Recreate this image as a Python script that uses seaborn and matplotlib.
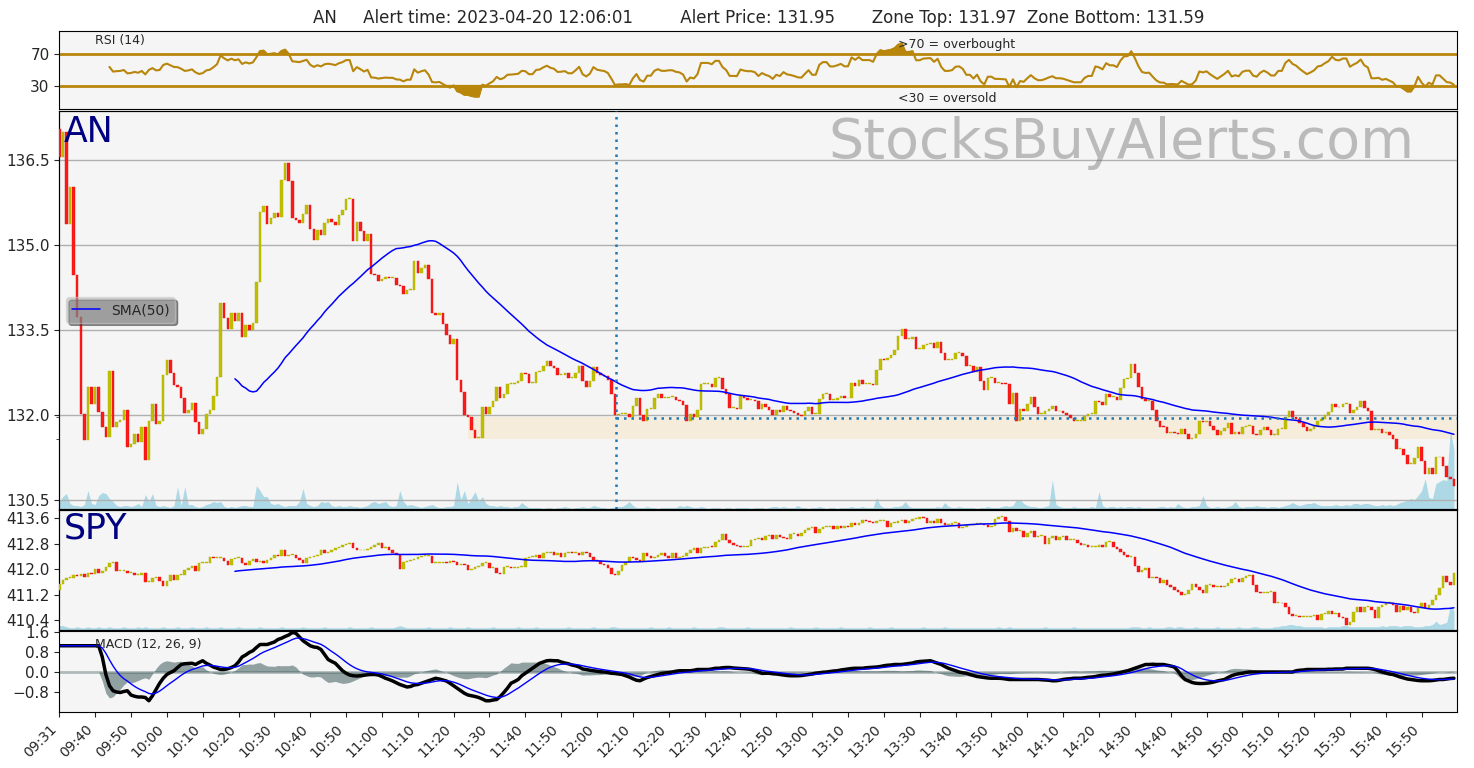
import numpy as np
import pandas as pd
import matplotlib
matplotlib.use("Agg")
import matplotlib.pyplot as plt
import seaborn as sns

# AN 1-minute closes (first bar opens at an_first_open)
an_first_open = 137.06
an_close = [
    136.56, 137.00, 135.38, 136.03, 134.47, 133.74, 132.03, 131.56, 132.50, 132.20,
    132.50, 132.06, 131.79, 131.62, 132.79, 131.79, 131.88, 131.92, 132.10, 131.44,
    131.50, 131.68, 131.53, 131.80, 131.22, 131.91, 132.20, 131.85, 131.91, 132.72,
    132.97, 132.75, 132.53, 132.51, 132.31, 132.04, 132.10, 132.22, 131.88, 131.68,
    131.76, 132.03, 132.10, 132.35, 132.68, 133.98, 133.72, 133.53, 133.80, 133.66,
    133.80, 133.39, 133.60, 133.50, 133.63, 134.35, 135.59, 135.69, 135.38, 135.49,
    135.58, 135.50, 136.16, 136.46, 136.13, 135.48, 135.44, 135.40, 135.55, 135.71,
    135.29, 135.10, 135.28, 135.18, 135.40, 135.46, 135.42, 135.36, 135.53, 135.63,
    135.82, 135.82, 135.08, 135.42, 135.26, 135.07, 135.20, 134.50, 134.47, 134.38,
    134.41, 134.44, 134.42, 134.42, 134.30, 134.28, 134.15, 134.22, 134.22, 134.72,
    134.52, 134.60, 134.65, 134.40, 133.81, 133.78, 133.80, 133.62, 133.42, 133.26,
    133.35, 132.63, 132.42, 132.00, 131.98, 131.75, 131.60, 131.60, 132.15, 132.03,
    132.15, 132.26, 132.50, 132.30, 132.37, 132.55, 132.56, 132.58, 132.60, 132.75,
    132.73, 132.57, 132.57, 132.76, 132.78, 132.88, 132.96, 132.88, 132.84, 132.71,
    132.72, 132.74, 132.66, 132.66, 132.75, 132.87, 132.60, 132.51, 132.60, 132.85,
    132.75, 132.72, 132.70, 132.63, 132.38, 132.00, 132.02, 132.02, 132.03, 131.97,
    132.16, 132.30, 132.00, 131.91, 132.12, 132.12, 132.31, 132.38, 132.31, 132.31,
    132.33, 132.33, 132.28, 132.26, 132.19, 131.91, 132.02, 131.98, 132.10, 132.55,
    132.55, 132.55, 132.51, 132.66, 132.66, 132.47, 132.37, 132.13, 132.13, 132.12,
    132.34, 132.30, 132.28, 132.28, 132.25, 132.12, 132.20, 132.14, 132.10, 132.00,
    132.10, 132.06, 132.16, 132.09, 132.07, 132.04, 132.00, 131.99, 132.07, 132.15,
    132.03, 132.03, 132.29, 132.38, 132.38, 132.28, 132.28, 132.31, 132.35, 132.30,
    132.30, 132.57, 132.52, 132.62, 132.56, 132.56, 132.56, 132.53, 132.80, 133.00,
    132.98, 133.02, 133.06, 133.15, 133.40, 133.53, 133.35, 133.35, 133.39, 133.18,
    133.18, 133.25, 133.26, 133.27, 133.19, 133.30, 133.10, 132.98, 132.98, 133.00,
    133.10, 133.11, 133.05, 132.88, 132.88, 132.76, 132.85, 132.60, 132.45, 132.66,
    132.66, 132.57, 132.57, 132.56, 132.55, 132.20, 132.40, 131.91, 132.12, 132.07,
    132.20, 132.32, 132.15, 132.03, 132.03, 132.07, 132.12, 132.16, 132.07, 132.07,
    132.05, 132.00, 131.95, 131.90, 131.90, 131.90, 131.99, 132.03, 132.03, 132.26,
    132.24, 132.19, 132.37, 132.32, 132.32, 132.28, 132.48, 132.65, 132.66, 132.91,
    132.75, 132.51, 132.29, 132.25, 132.26, 132.09, 131.91, 131.80, 131.79, 131.69,
    131.70, 131.69, 131.68, 131.76, 131.68, 131.59, 131.60, 131.68, 131.91, 131.88,
    131.91, 131.82, 131.74, 131.66, 131.72, 131.78, 131.86, 131.68, 131.71, 131.68,
    131.79, 131.82, 131.82, 131.68, 131.65, 131.74, 131.79, 131.74, 131.66, 131.66,
    131.76, 131.76, 131.97, 132.07, 131.98, 131.94, 131.86, 131.79, 131.72, 131.76,
    131.81, 131.91, 131.93, 132.00, 132.06, 132.21, 132.15, 132.14, 132.20, 132.20,
    132.04, 132.10, 132.15, 132.25, 132.13, 132.08, 131.75, 131.75, 131.76, 131.69,
    131.71, 131.65, 131.59, 131.41, 131.41, 131.30, 131.15, 131.15, 131.24, 131.45,
    131.20, 130.97, 131.08, 130.97, 131.26, 131.26, 131.10, 130.91, 130.88, 130.75,
]

spy_first_open = 411.36
spy_close = [
    411.55, 411.67, 411.72, 411.72, 411.82, 411.80, 411.85, 411.77, 411.87, 411.85,
    412.00, 411.87, 411.95, 412.06, 412.19, 412.24, 411.96, 411.96, 411.96, 411.90,
    411.90, 411.82, 411.82, 411.87, 411.61, 411.61, 411.72, 411.75, 411.64, 411.48,
    411.64, 411.82, 411.66, 411.82, 411.82, 411.98, 412.04, 412.10, 411.96, 412.19,
    412.21, 412.21, 412.38, 412.35, 412.35, 412.35, 412.27, 412.14, 412.31, 412.35,
    412.35, 412.21, 412.14, 412.27, 412.31, 412.24, 412.27, 412.21, 412.29, 412.34,
    412.45, 412.42, 412.62, 412.42, 412.45, 412.45, 412.35, 412.30, 412.19, 412.35,
    412.40, 412.42, 412.45, 412.60, 412.52, 412.55, 412.60, 412.66, 412.71, 412.76,
    412.78, 412.82, 412.66, 412.59, 412.59, 412.59, 412.63, 412.71, 412.76, 412.82,
    412.66, 412.71, 412.60, 412.50, 412.45, 412.00, 412.24, 412.27, 412.29, 412.33,
    412.40, 412.42, 412.42, 412.42, 412.19, 412.21, 412.21, 412.24, 412.19, 412.27,
    412.24, 412.14, 412.17, 412.14, 411.98, 412.02, 412.06, 412.09, 412.19, 412.19,
    412.03, 412.03, 411.87, 411.85, 412.08, 412.08, 412.03, 412.05, 412.06, 412.08,
    412.35, 412.40, 412.40, 412.45, 412.35, 412.50, 412.50, 412.55, 412.45, 412.50,
    412.40, 412.52, 412.55, 412.50, 412.50, 412.45, 412.55, 412.50, 412.40, 412.29,
    412.27, 412.17, 412.14, 412.03, 411.85, 411.82, 411.96, 412.14, 412.24, 412.40,
    412.35, 412.29, 412.27, 412.50, 412.42, 412.35, 412.40, 412.45, 412.50, 412.42,
    412.35, 412.50, 412.35, 412.40, 412.42, 412.50, 412.60, 412.66, 412.52, 412.66,
    412.66, 412.71, 412.69, 412.87, 412.92, 413.11, 412.92, 412.84, 412.76, 412.73,
    412.69, 412.71, 412.73, 412.92, 412.94, 412.97, 412.92, 413.03, 413.08, 412.94,
    413.08, 413.00, 412.97, 412.94, 413.10, 413.10, 413.05, 413.15, 413.22, 413.28,
    413.34, 413.13, 413.25, 413.32, 413.34, 413.36, 413.26, 413.36, 413.28, 413.36,
    413.34, 413.46, 413.39, 413.46, 413.55, 413.50, 413.47, 413.44, 413.50, 413.50,
    413.50, 413.32, 413.44, 413.44, 413.50, 413.55, 413.46, 413.50, 413.57, 413.57,
    413.65, 413.60, 413.46, 413.50, 413.46, 413.57, 413.46, 413.39, 413.39, 413.44,
    413.46, 413.29, 413.34, 413.39, 413.39, 413.42, 413.42, 413.42, 413.39, 413.34,
    413.36, 413.57, 413.65, 413.65, 413.50, 413.18, 413.29, 413.21, 413.21, 413.00,
    413.15, 413.21, 413.00, 413.05, 413.05, 412.80, 412.97, 413.05, 412.92, 413.00,
    413.03, 412.92, 412.92, 412.92, 412.82, 412.76, 412.76, 412.69, 412.69, 412.71,
    412.76, 412.69, 412.87, 412.87, 412.69, 412.63, 412.55, 412.45, 412.40, 412.40,
    412.10, 411.93, 411.98, 412.03, 411.72, 411.77, 411.72, 411.58, 411.66, 411.51,
    411.45, 411.35, 411.30, 411.19, 411.23, 411.35, 411.54, 411.46, 411.35, 411.25,
    411.51, 411.51, 411.44, 411.48, 411.44, 411.48, 411.58, 411.69, 411.69, 411.61,
    411.72, 411.79, 411.82, 411.51, 411.30, 411.25, 411.27, 411.30, 411.30, 410.95,
    410.95, 410.93, 410.83, 410.60, 410.54, 410.54, 410.50, 410.51, 410.51, 410.55,
    410.57, 410.41, 410.60, 410.60, 410.70, 410.60, 410.62, 410.51, 410.47, 410.26,
    410.36, 410.67, 410.83, 410.67, 410.83, 410.83, 410.72, 410.46, 410.83, 410.88,
    410.95, 410.95, 410.88, 410.67, 410.85, 410.72, 410.83, 410.67, 410.62, 410.78,
    410.93, 410.78, 410.88, 411.04, 411.20, 411.40, 411.79, 411.61, 411.51, 411.87,
]

an_volume = [
    8, 13, 16, 6, 4, 4, 3, 5, 19, 6,
    5, 14, 17, 16, 11, 8, 4, 3, 4, 4,
    3, 4, 6, 3, 15, 8, 16, 4, 3, 4,
    3, 2, 4, 23, 4, 23, 5, 5, 3, 2,
    3, 5, 6, 8, 7, 8, 3, 2, 3, 2,
    3, 4, 4, 3, 3, 24, 19, 13, 13, 6,
    5, 6, 4, 3, 4, 4, 4, 8, 21, 6,
    4, 3, 4, 8, 7, 8, 4, 3, 4, 3,
    3, 4, 3, 3, 2, 3, 4, 7, 8, 6,
    7, 8, 4, 3, 4, 19, 8, 4, 5, 4,
    3, 2, 3, 4, 5, 3, 2, 2, 3, 3,
    4, 28, 10, 19, 6, 12, 18, 8, 13, 6,
    4, 4, 3, 4, 3, 3, 2, 3, 3, 7,
    4, 2, 2, 2, 2, 1, 2, 2, 1, 2,
    2, 3, 2, 1, 2, 2, 3, 2, 2, 4,
    3, 2, 2, 1, 2, 2, 3, 3, 5, 8,
    4, 2, 2, 2, 3, 2, 2, 1, 2, 2,
    2, 2, 2, 4, 3, 4, 3, 2, 2, 3,
    2, 1, 2, 2, 2, 1, 2, 2, 1, 2,
    2, 2, 2, 1, 2, 2, 2, 1, 2, 3,
    3, 2, 3, 2, 2, 2, 4, 2, 2, 1,
    2, 2, 3, 2, 1, 2, 2, 1, 2, 2,
    2, 3, 2, 2, 3, 2, 2, 2, 12, 4,
    2, 2, 2, 3, 3, 4, 8, 3, 2, 2,
    2, 2, 2, 2, 2, 3, 2, 7, 3, 2,
    2, 3, 2, 2, 2, 2, 1, 2, 2, 3,
    2, 2, 2, 3, 4, 3, 4, 10, 10, 6,
    4, 3, 3, 2, 2, 3, 4, 30, 5, 3,
    2, 2, 2, 3, 2, 2, 2, 2, 3, 2,
    18, 4, 2, 3, 3, 2, 3, 2, 3, 3,
    2, 3, 2, 2, 2, 2, 2, 3, 3, 2,
    3, 2, 6, 3, 2, 2, 3, 3, 4, 14,
    4, 2, 2, 3, 2, 2, 3, 4, 8, 3,
    2, 3, 3, 3, 4, 3, 3, 2, 3, 3,
    2, 3, 4, 5, 7, 5, 4, 5, 6, 6,
    7, 5, 4, 4, 4, 4, 5, 4, 4, 5,
    4, 6, 6, 5, 6, 6, 5, 4, 4, 5,
    4, 5, 4, 5, 7, 8, 9, 11, 10, 14,
    19, 31, 12, 11, 26, 28, 30, 29, 80, 60,
]

spy_volume = [
    4, 4, 3, 2, 2, 3, 2, 2, 3, 2,
    2, 3, 2, 2, 3, 2, 2, 2, 3, 2,
    2, 2, 3, 2, 3, 2, 2, 2, 2, 3,
    2, 2, 2, 3, 2, 2, 2, 3, 2, 2,
    2, 3, 2, 2, 2, 3, 2, 2, 2, 2,
    3, 2, 2, 2, 2, 2, 3, 2, 2, 2,
    2, 2, 3, 2, 2, 2, 2, 2, 3, 2,
    2, 2, 2, 2, 3, 2, 2, 2, 2, 2,
    2, 3, 2, 2, 2, 2, 2, 3, 2, 2,
    2, 2, 2, 2, 3, 4, 3, 2, 2, 2,
    2, 2, 2, 3, 2, 2, 2, 2, 2, 3,
    2, 2, 2, 2, 3, 2, 2, 2, 2, 2,
    2, 3, 2, 2, 2, 2, 2, 2, 3, 2,
    2, 2, 2, 3, 2, 2, 2, 2, 2, 2,
    2, 2, 3, 2, 2, 2, 2, 2, 2, 3,
    2, 2, 2, 2, 3, 3, 2, 2, 2, 2,
    2, 2, 2, 2, 2, 3, 2, 2, 2, 2,
    3, 2, 2, 2, 2, 2, 2, 3, 2, 2,
    2, 2, 2, 2, 3, 3, 2, 2, 2, 2,
    2, 2, 3, 2, 2, 2, 2, 2, 2, 2,
    2, 2, 2, 2, 3, 2, 2, 2, 2, 2,
    2, 3, 2, 2, 2, 2, 2, 2, 3, 2,
    2, 2, 2, 2, 2, 2, 3, 2, 2, 2,
    2, 2, 3, 2, 2, 2, 2, 2, 2, 2,
    2, 3, 2, 2, 2, 2, 2, 3, 2, 2,
    2, 2, 2, 2, 2, 2, 2, 2, 2, 2,
    2, 2, 3, 2, 2, 3, 2, 2, 2, 2,
    2, 2, 2, 2, 2, 3, 2, 2, 2, 2,
    2, 2, 2, 3, 2, 2, 2, 2, 2, 2,
    2, 2, 2, 2, 2, 2, 2, 2, 2, 3,
    3, 3, 2, 2, 3, 2, 2, 2, 2, 3,
    3, 2, 3, 3, 2, 2, 2, 3, 2, 2,
    2, 2, 2, 3, 2, 2, 2, 2, 2, 3,
    2, 2, 2, 3, 3, 2, 2, 2, 2, 3,
    3, 4, 4, 5, 5, 4, 4, 3, 3, 3,
    3, 3, 3, 2, 3, 3, 3, 3, 4, 4,
    3, 3, 3, 3, 3, 3, 3, 3, 3, 4,
    3, 4, 4, 4, 3, 4, 4, 4, 3, 3,
    3, 4, 4, 5, 8, 5, 6, 7, 22, 18,
]

# MACD (12, 26, 9) line; signal/histogram derived below
macd_line = [
    1.05, 1.05, 1.05, 1.05, 1.05, 1.05, 1.05, 1.05, 1.05, 1.05,
    1.05, 1.05, 0.60, -0.10, -0.55, -0.75, -0.80, -0.82, -0.78, -0.75,
    -0.92, -0.97, -1.00, -1.00, -1.02, -1.15, -0.95, -0.70, -0.45, -0.25,
    -0.10, -0.02, 0.05, 0.18, 0.30, 0.33, 0.34, 0.35, 0.30, 0.38,
    0.45, 0.35, 0.28, 0.20, 0.15, 0.10, 0.10, 0.13, 0.18, 0.25,
    0.40, 0.60, 0.68, 0.78, 0.85, 0.98, 1.10, 1.10, 1.10, 1.15,
    1.20, 1.30, 1.35, 1.42, 1.48, 1.58, 1.55, 1.40, 1.25, 1.15,
    1.05, 1.00, 0.98, 0.90, 0.70, 0.50, 0.42, 0.35, 0.20, 0.05,
    -0.05, -0.12, -0.15, -0.16, -0.15, -0.13, -0.11, -0.10, -0.10, -0.12,
    -0.18, -0.25, -0.30, -0.36, -0.43, -0.50, -0.55, -0.60, -0.58, -0.52,
    -0.50, -0.45, -0.40, -0.35, -0.30, -0.25, -0.28, -0.32, -0.36, -0.45,
    -0.55, -0.65, -0.75, -0.85, -0.92, -0.95, -0.98, -1.02, -1.08, -1.15,
    -1.15, -1.12, -1.10, -0.98, -0.82, -0.65, -0.45, -0.38, -0.30, -0.15,
    -0.05, 0.05, 0.15, 0.25, 0.35, 0.40, 0.45, 0.46, 0.45, 0.45,
    0.40, 0.36, 0.33, 0.28, 0.25, 0.20, 0.12, 0.10, 0.07, 0.05,
    0.03, 0.01, 0.00, -0.02, -0.05, -0.06, -0.08, -0.10, -0.15, -0.20,
    -0.27, -0.33, -0.35, -0.28, -0.22, -0.18, -0.14, -0.10, -0.06, -0.04,
    -0.02, 0.00, 0.03, 0.05, 0.05, 0.05, 0.05, 0.07, 0.10, 0.10,
    0.10, 0.10, 0.12, 0.15, 0.15, 0.17, 0.18, 0.18, 0.16, 0.15,
    0.14, 0.13, 0.12, 0.10, 0.05, 0.00, -0.05, -0.05, -0.05, -0.07,
    -0.08, -0.10, -0.12, -0.14, -0.15, -0.15, -0.15, -0.14, -0.12, -0.10,
    -0.08, -0.05, -0.03, -0.01, 0.00, 0.02, 0.04, 0.05, 0.08, 0.10,
    0.12, 0.14, 0.15, 0.15, 0.15, 0.17, 0.18, 0.19, 0.20, 0.22,
    0.25, 0.27, 0.28, 0.30, 0.30, 0.30, 0.32, 0.34, 0.36, 0.40,
    0.42, 0.43, 0.44, 0.45, 0.40, 0.35, 0.30, 0.22, 0.15, 0.10,
    0.05, 0.00, -0.03, -0.05, -0.10, -0.14, -0.18, -0.20, -0.22, -0.24,
    -0.25, -0.25, -0.25, -0.26, -0.28, -0.30, -0.30, -0.30, -0.30, -0.30,
    -0.30, -0.30, -0.30, -0.30, -0.31, -0.32, -0.33, -0.35, -0.35, -0.33,
    -0.30, -0.28, -0.27, -0.25, -0.25, -0.25, -0.23, -0.21, -0.20, -0.18,
    -0.15, -0.13, -0.12, -0.10, -0.08, -0.05, -0.02, 0.02, 0.05, 0.10,
    0.15, 0.20, 0.25, 0.30, 0.30, 0.31, 0.30, 0.30, 0.30, 0.27,
    0.24, 0.20, 0.05, -0.15, -0.30, -0.36, -0.42, -0.45, -0.46, -0.46,
    -0.45, -0.43, -0.40, -0.36, -0.33, -0.30, -0.22, -0.15, -0.10, -0.07,
    -0.05, -0.02, 0.00, 0.00, 0.00, 0.00, 0.00, 0.00, 0.00, 0.00,
    0.00, 0.00, 0.00, 0.00, 0.00, 0.05, 0.07, 0.08, 0.10, 0.10,
    0.10, 0.10, 0.10, 0.10, 0.11, 0.11, 0.12, 0.12, 0.12, 0.15,
    0.15, 0.15, 0.15, 0.15, 0.15, 0.15, 0.13, 0.10, 0.05, 0.00,
    -0.04, -0.08, -0.10, -0.15, -0.20, -0.24, -0.28, -0.30, -0.32, -0.34,
    -0.35, -0.35, -0.35, -0.34, -0.32, -0.30, -0.30, -0.28, -0.26, -0.25,
]

time_labels = ["09:31", "09:40", "09:50", "10:00", "10:10", "10:20", "10:30", "10:40",
               "10:50", "11:00", "11:10", "11:20", "11:30", "11:40", "11:50", "12:00",
               "12:10", "12:20", "12:30", "12:40", "12:50", "13:00", "13:10", "13:20",
               "13:30", "13:40", "13:50", "14:00", "14:10", "14:20", "14:30", "14:40",
               "14:50", "15:00", "15:10", "15:20", "15:30", "15:40", "15:50"]

an_ticks = [130.5, 132.0, 133.5, 135.0, 136.5]
an_tick_labels = ["130.5", "132.0", "133.5", "135.0", "136.5"]
spy_ticks = [410.4, 411.2, 412.0, 412.8, 413.6]
spy_tick_labels = ["410.4", "411.2", "412.0", "412.8", "413.6"]
macd_ticks = [-0.8, 0.0, 0.8, 1.6]
macd_tick_labels = ["\u22120.8", "0.0", "0.8", "1.6"]

alert_pos = 155.3
alert_price = 131.95
zone_top = 131.97
zone_bottom = 131.59
zone_start = 114

title = ("AN     Alert time: 2023-04-20 12:06:01         Alert Price: 131.95"
         "       Zone Top: 131.97  Zone Bottom: 131.59")

sns.set_style("ticks", {"axes.facecolor": "#f5f5f5", "axes.edgecolor": "black"})
plt.rcParams["font.family"] = ["DejaVu Sans"]

n = len(an_close)
x = np.arange(n)
an = pd.Series(an_close)

# indicators (Wilder RSI, SMA 50, MACD signal/histogram)
sma = an.rolling(50).mean()
delta = an.diff()
gain = delta.clip(lower=0).ewm(alpha=1 / 14, adjust=False, min_periods=14).mean()
loss = (-delta.clip(upper=0)).ewm(alpha=1 / 14, adjust=False, min_periods=14).mean()
rsi = (100 - 100 / (1 + gain / loss)).values
macd = pd.Series(macd_line)
signal = macd.ewm(span=9, adjust=False).mean()
hist = (macd - signal).values

fig = plt.figure(figsize=(14.74, 7.68), dpi=100)
left, width = 0.0402, 0.9486
ax_rsi = fig.add_axes([left, 0.8581, width, 0.1016])
ax_an = fig.add_axes([left, 0.3366, width, 0.5195], sharex=ax_rsi)
ax_spy = fig.add_axes([left, 0.1797, width, 0.1563], sharex=ax_rsi)
ax_macd = fig.add_axes([left, 0.0729, width, 0.1055], sharex=ax_rsi)


def draw_candles(ax, first_open, close, min_body):
    close = np.asarray(close)
    opn = np.r_[first_open, close[:-1]]
    up = close >= opn
    low = np.minimum(opn, close)
    body = np.maximum(np.abs(close - opn), min_body)
    ax.bar(x[up], body[up], bottom=low[up], width=0.7, color="y",
           edgecolor="#b3b000", lw=0.3, zorder=3)
    ax.bar(x[~up], body[~up], bottom=low[~up], width=0.7, color="#ff1a1a",
           edgecolor="#e01010", lw=0.3, zorder=3)


def draw_volume(ax, vol):
    vax = ax.twinx()
    vax.fill_between(x, vol, color="lightblue", lw=0)
    vax.set_ylim(0, max(vol) * 5)
    vax.set_yticks([])
    vax.patch.set_visible(True)
    vax.set_facecolor("#f5f5f5")
    ax.set_zorder(vax.get_zorder() + 1)
    ax.patch.set_visible(False)


# RSI panel
sns.lineplot(x=x, y=rsi, color="darkgoldenrod", lw=1.5, ax=ax_rsi)
ax_rsi.axhline(70, color="darkgoldenrod", lw=2)
ax_rsi.axhline(30, color="darkgoldenrod", lw=2)
ax_rsi.fill_between(x, rsi, 70, where=rsi >= 70, interpolate=True, color="darkgoldenrod")
ax_rsi.fill_between(x, rsi, 30, where=rsi <= 30, interpolate=True, color="darkgoldenrod")
ax_rsi.set_ylim(0, 100)
ax_rsi.set_yticks([30, 70])
ax_rsi.text(10, 88, "RSI (14)", fontsize=9, va="center")
ax_rsi.text(n * 0.6, 83, ">70 = overbought", fontsize=9, va="center")
ax_rsi.text(n * 0.6, 14, "<30 = oversold", fontsize=9, va="center")
ax_rsi.set_title(title, fontsize=12)

# AN panel
draw_volume(ax_an, an_volume)
ax_an.fill_between([zone_start, n], zone_bottom, zone_top, color="orange", alpha=0.1, lw=0, zorder=1)
draw_candles(ax_an, an_first_open, an_close, 0.015)
sns.lineplot(x=x, y=sma, color="blue", lw=1.1, label="SMA(50)", ax=ax_an, zorder=4)
ax_an.axvline(alert_pos, color="tab:blue", lw=1.8, ls=(0, (1, 2)), zorder=5)
ax_an.hlines(alert_price, alert_pos, n, color="tab:blue", lw=1.8, ls=(0, (1, 2)), zorder=5)
ax_an.set_ylim(130.34, 137.38)
ax_an.set_yticks(an_ticks)
ax_an.set_yticklabels(an_tick_labels)
ax_an.set_yticks([zone_bottom, zone_top], minor=True)
ax_an.grid(axis="y", color="#b0b0b0", lw=1)
ax_an.set_axisbelow(True)
ax_an.legend(loc="center left", fontsize=10, facecolor="darkgray", framealpha=0.5, shadow=True)
ax_an.text(0.003, 0.99, "AN", transform=ax_an.transAxes, fontsize=25, color="navy", va="top")
ax_an.text(0.969, 0.985, "StocksBuyAlerts.com", transform=ax_an.transAxes, fontsize=40,
           color="gray", alpha=0.5, ha="right", va="top")

# SPY panel
draw_volume(ax_spy, spy_volume)
draw_candles(ax_spy, spy_first_open, spy_close, 0.03)
sns.lineplot(x=x, y=pd.Series(spy_close).rolling(50).mean(), color="blue", lw=1.1, ax=ax_spy, zorder=4)
ax_spy.set_ylim(410.10, 413.86)
ax_spy.set_yticks(spy_ticks)
ax_spy.set_yticklabels(spy_tick_labels)
ax_spy.text(0.003, 0.99, "SPY", transform=ax_spy.transAxes, fontsize=25, color="navy", va="top")

# MACD panel
ax_macd.fill_between(x, hist, 0, color="darkslategray", alpha=0.5, lw=0)
ax_macd.axhline(0, color="darkslategray", alpha=0.35, lw=2)
sns.lineplot(x=x, y=macd, color="black", lw=2.5, ax=ax_macd)
sns.lineplot(x=x, y=signal, color="blue", lw=1, ax=ax_macd)
ax_macd.set_ylim(-1.6, 1.64)
ax_macd.set_yticks(macd_ticks)
ax_macd.set_yticklabels(macd_tick_labels)
ax_macd.text(10, 1.08, "MACD (12, 26, 9)", fontsize=9, va="center")

ax_rsi.set_xlim(0, n)
ax_macd.set_xticks(np.arange(0, n, 10)[:len(time_labels)])
ax_macd.set_xticklabels(time_labels, rotation=45, ha="right", fontsize=10)

for ax in (ax_rsi, ax_an, ax_spy, ax_macd):
    ax.set_xlabel("")
    ax.set_ylabel("")
    ax.tick_params(axis="y", labelsize=11)
for ax in (ax_rsi, ax_an, ax_spy):
    ax.tick_params(axis="x", which="both", bottom=False, labelbottom=False)

fig.savefig("out.png", dpi=100)
